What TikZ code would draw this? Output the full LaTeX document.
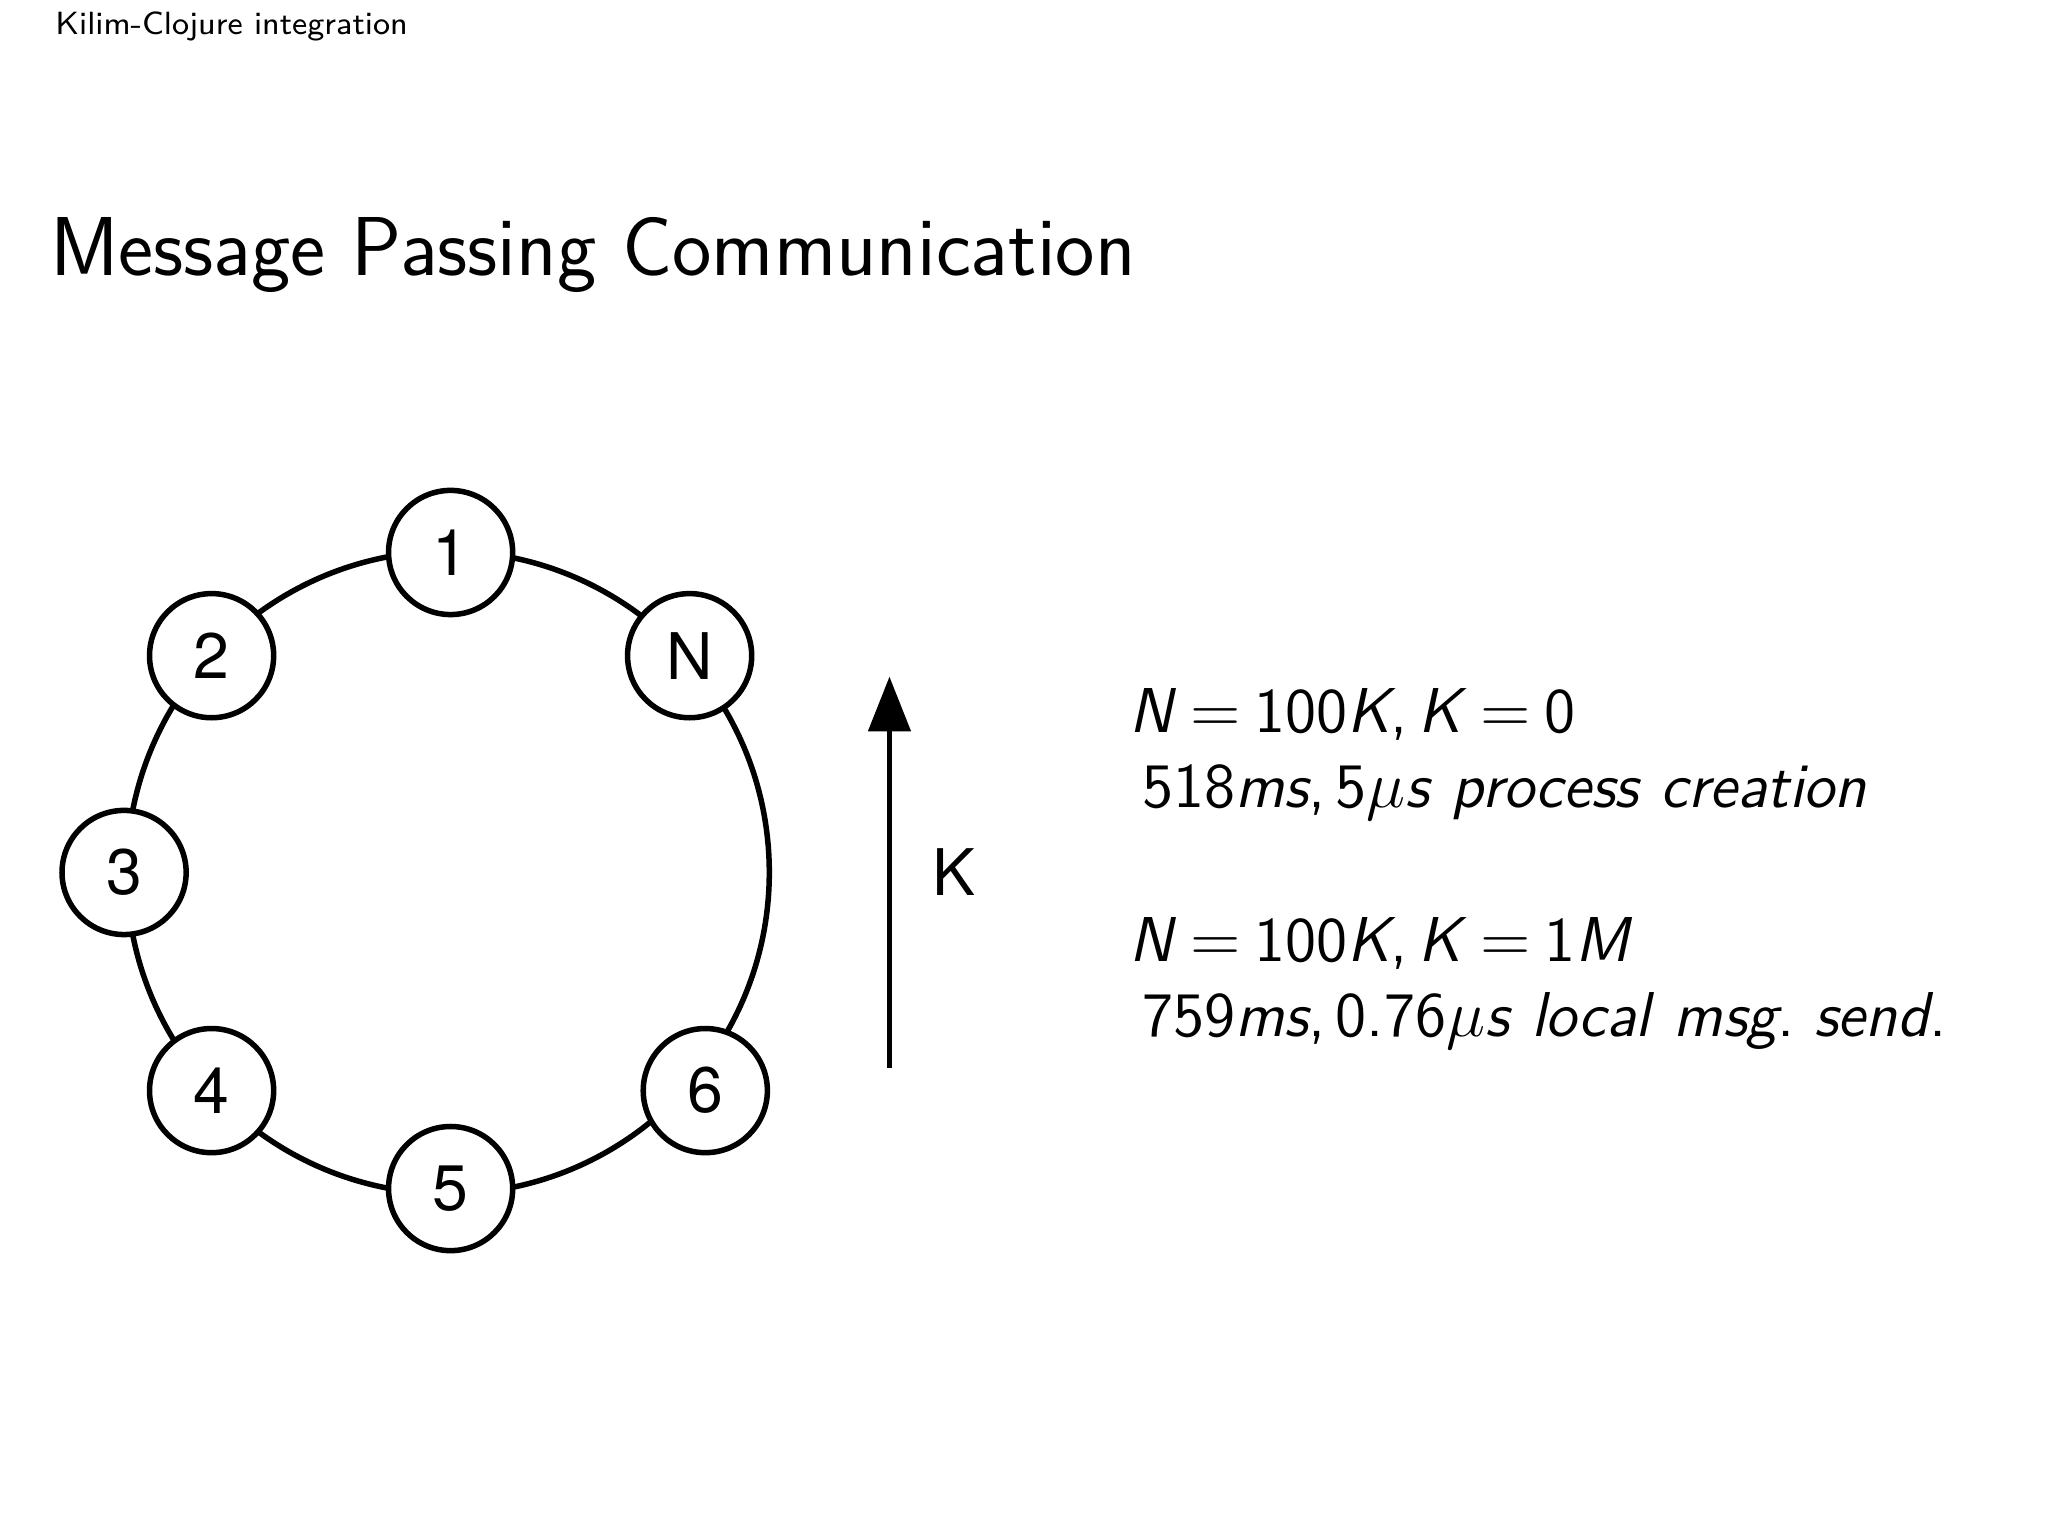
\documentclass[tikz,border=0pt]{standalone}
\usepackage{fontspec}
\newfontfamily\helv{TeX Gyre Heros}
\usetikzlibrary{arrows.meta}
\newcommand{\ws}{\hspace{0.3em}}
\newcommand{\es}{\hspace{0.22em}}
\begin{document}
\begin{tikzpicture}[x=0.01cm,y=-0.01cm,
  ring/.style={circle,draw,line width=1.2pt,fill=white,minimum size=0.95cm,inner sep=0pt,font=\helv\fontsize{14}{16}\selectfont},
  mtext/.style={anchor=west,font=\sffamily\fontsize{13.8}{17}\selectfont}]
\useasboundingbox (0,0) rectangle (1568,1176);
\node[anchor=west,font=\sffamily\fontsize{7}{9}\selectfont] (hdr) at (30,20) {Kilim-Clojure integration};
\node[anchor=west,font=\sffamily\fontsize{18.2}{22}\selectfont] (title) at (26,195) {Message Passing Communication};
\coordinate (c) at (343,668);
\draw[line width=1.2pt] (c) circle [radius=246];
\node[ring] (n1) at (345,423) {1};
\node[ring] (nN) at (528,502) {N};
\node[ring] (n2) at (162,502) {2};
\node[ring] (n3) at (95,668) {3};
\node[ring] (n4) at (162,835) {4};
\node[ring] (n5) at (345,910) {5};
\node[ring] (n6) at (540,835) {6};
\coordinate (ab) at (681,818);
\coordinate (at) at (681,518);
\draw[line width=1.2pt,-{Triangle[length=0.42cm,width=0.32cm]}] (ab) -- (at);
\node[font=\helv\fontsize{14}{16}\selectfont] (k) at (730,668) {K};
\node[mtext] (t1) at (852,547) {\textit{N}\es$=$\es100\textit{K},\,\textit{K}\es$=$\es0};
\node[mtext] (t2) at (862,607) {518\textit{ms},\,5$\mu$\textit{s}\ws\textit{process}\ws\textit{creation}};
\node[mtext] (t3) at (852,722) {\textit{N}\es$=$\es100\textit{K},\,\textit{K}\es$=$\es1\textit{M}};
\node[mtext] (t4) at (862,782) {759\textit{ms},\,0.76$\mu$\textit{s}\ws\textit{local}\ws\textit{msg}.\ws\textit{send}.};
\end{tikzpicture}
\end{document}
